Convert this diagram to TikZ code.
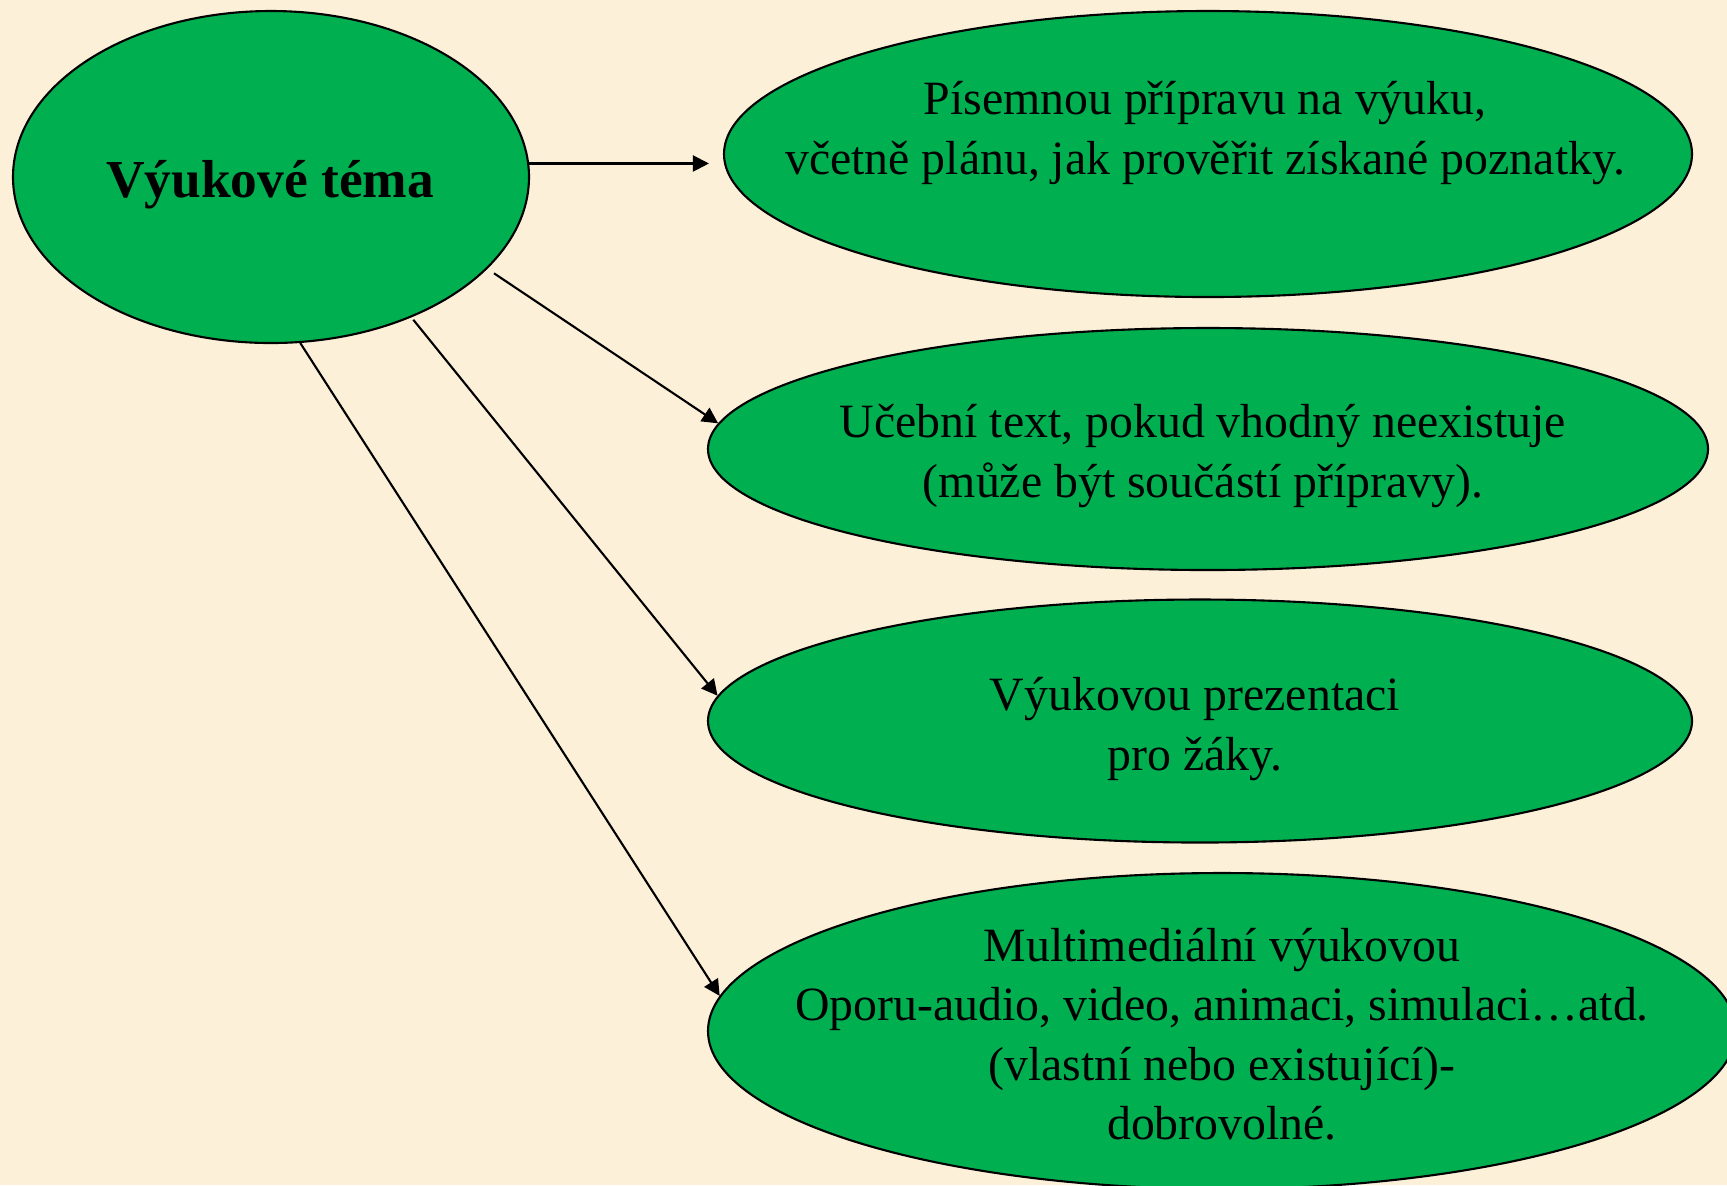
\documentclass[tikz,border=0pt]{standalone}
\usepackage{fontspec}
\setmainfont{Liberation Serif}
\usetikzlibrary{shapes.geometric,arrows.meta}

\definecolor{parchment}{HTML}{FCF1D8}
\definecolor{topicgreen}{HTML}{00B050}

\tikzset{
  topic/.style={ellipse, draw=black, line width=0.6pt, fill=topicgreen, inner sep=0pt},
  topictxt/.style={align=center, inner sep=0pt, font=\fontsize{13.6}{16.9}\selectfont},
  arr/.style={line width=0.6pt, -{Triangle[length=1.6mm,width=1.6mm]}}
}

\begin{document}
\begin{tikzpicture}
    % Background
    \fill[parchment] (0,0) rectangle (17.27,-11.85);
    \useasboundingbox (0,0) rectangle (17.27,-11.85);

    % The main topic
    \node[topic, minimum width=5.16cm, minimum height=3.32cm] (main) at (2.71,-1.77) {};
    \node[font=\fontsize{15.2}{18}\selectfont\bfseries, inner sep=0pt] (maintxt)
      at (2.70,-1.85) {Výukové téma};

    % The four outputs
    \node[topic, minimum width=9.68cm, minimum height=2.86cm] (e1) at (12.08,-1.54) {};
    \node[topic, minimum width=10.0cm, minimum height=2.42cm] (e2) at (12.08,-4.49) {};
    \node[topic, minimum width=9.84cm, minimum height=2.43cm] (e3) at (12.00,-7.21) {};
    \node[topic, minimum width=10.28cm, minimum height=3.16cm] (e4) at (12.22,-10.31) {};

    % Their texts
    \node[topictxt] (e1txt) at (12.05,-1.33)
      {Písemnou přípravu na výuku,\\včetně plánu, jak prověřit získané poznatky.};
    \node[topictxt] (e2txt) at (12.03,-4.56)
      {Učební text, pokud vhodný neexistuje\\(může být součástí přípravy).};
    \node[topictxt] (e3txt) at (11.95,-7.29)
      {Výukovou prezentaci\\pro žáky.};
    \node[topictxt] (e4txt) at (12.22,-10.34)
      {Multimediální výukovou\\Oporu-audio, video, animaci, simulaci\dots atd.\\(vlastní nebo existující)-\\dobrovolné.};

    % Arrows
    \draw[arr, shorten >=1.4mm] (main.3) -- (main.3 -| e1.west);
    \draw[arr, shorten <=0.8mm] (main.-23) -- (e2.177);
    \draw[arr, shorten <=0.3mm] (main.-45) -- (e3.177);
    \draw[arr] (main.-80) -- (e4.176);
\end{tikzpicture}
\end{document}
